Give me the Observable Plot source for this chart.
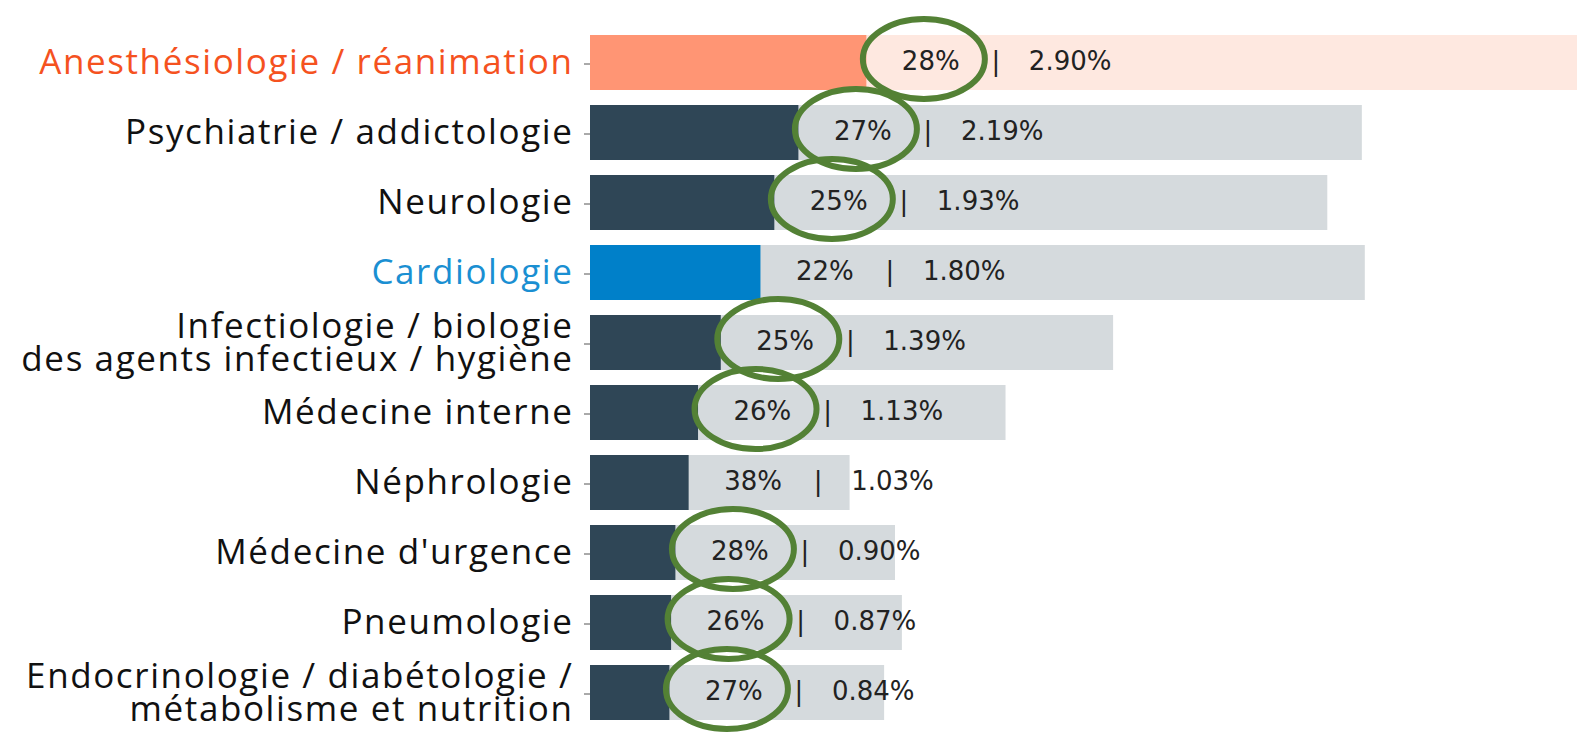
<!DOCTYPE html>
<html><head><meta charset="utf-8">
<script src="https://cdn.jsdelivr.net/npm/d3@7"></script>
<script src="https://cdn.jsdelivr.net/npm/@observablehq/plot@0.6"></script>
<style>
body{margin:0;background:#fff} svg{display:block}
g[aria-label="y-axis tick label"] text{letter-spacing:1.6px}
</style>
</head><body><div id="chart"></div>
<script>
// Spécialités (ordre d'affichage)
const specialites = [
  "Anesthésiologie / réanimation",
  "Psychiatrie / addictologie",
  "Neurologie",
  "Cardiologie",
  "Infectiologie / biologie\ndes agents infectieux / hygiène",
  "Médecine interne",
  "Néphrologie",
  "Médecine d'urgence",
  "Pneumologie",
  "Endocrinologie / diabétologie /\nmétabolisme et nutrition"
];
// longueur de la barre de fond (échelle relative)
const effectifs = [1000, 782, 747, 785, 530, 421, 263, 309, 316, 298];
// part (%) — barre foncée
const partPct = [28, 27, 25, 22, 25, 26, 38, 28, 26, 27];
// taux (%) affiché à droite
const tauxPct = [2.90, 2.19, 1.93, 1.80, 1.39, 1.13, 1.03, 0.90, 0.87, 0.84];
// groupe de mise en évidence
const groupe = ["anesth","autre","autre","cardio","autre","autre","autre","autre","autre","autre"];
// part entourée en vert
const entoure = [true, true, true, false, true, true, false, true, true, true];

const data = specialites.map((s, i) => ({
  spec: s, total: effectifs[i], part: effectifs[i] * partPct[i] / 100,
  pct: partPct[i] + "%", taux: tauxPct[i].toFixed(2) + "%",
  groupe: groupe[i], entoure: entoure[i]
}));

const bgColor = g => g === "anesth" ? "#fee8e0" : "#d5dadd";
const fgColor = g => g === "anesth" ? "#ff9574" : g === "cardio" ? "#0080c9" : "#2f4656";
const labelColor = {"Anesthésiologie / réanimation": "#f5521f", "Cardiologie": "#1a8fd2"};

const k = 0.5523, rx = 61, ry = 40;
const ellipse = {
  draw(ctx) {
    ctx.moveTo(rx, 0);
    ctx.bezierCurveTo(rx, ry * k, rx * k, ry, 0, ry);
    ctx.bezierCurveTo(-rx * k, ry, -rx, ry * k, -rx, 0);
    ctx.bezierCurveTo(-rx, -ry * k, -rx * k, -ry, 0, -ry);
    ctx.bezierCurveTo(rx * k, -ry, rx, -ry * k, rx, 0);
    ctx.closePath();
  }
};

const txtFont = "DejaVu Sans";
const chart = Plot.plot({
  width: 1577,
  height: 737,
  marginLeft: 590,
  marginRight: 0,
  marginTop: 31,
  marginBottom: 14,
  style: {background: "#fff", overflow: "visible"},
  x: {domain: [0, 1000], axis: null},
  y: {domain: specialites, paddingInner: 0.215, paddingOuter: 0, label: null},
  marks: [
    Plot.barX(data, {x: "total", y: "spec", fill: d => bgColor(d.groupe)}),
    Plot.barX(data, {x: "part", y: "spec", fill: d => fgColor(d.groupe)}),
    Plot.text(data, {x: "part", y: "spec", text: "pct", dx: 35, dy: -1, textAnchor: "start", fontFamily: txtFont, fontSize: 26, fill: "#222"}),
    Plot.text(data, {x: "part", y: "spec", text: d => "|", dx: 129, dy: -1, textAnchor: "middle", fontFamily: txtFont, fontSize: 26, fill: "#222"}),
    Plot.text(data, {x: "part", y: "spec", text: "taux", dx: 162, dy: -1, textAnchor: "start", fontFamily: txtFont, fontSize: 26, fill: "#222"}),
    Plot.dot(data.filter(d => d.entoure), {x: "part", y: "spec", dx: 57, dy: -4, symbol: ellipse, fill: "none", stroke: "#538135", strokeWidth: 6}),
    Plot.axisY({
      tickSize: 6, tickPadding: 11, stroke: "#555",
      fontFamily: "Open Sans", fontSize: 35, lineHeight: 0.93, dy: 1,
      fill: d => labelColor[d] || "#111",
      label: null
    })
  ]
});
document.getElementById("chart").appendChild(chart);
</script>
</body></html>
